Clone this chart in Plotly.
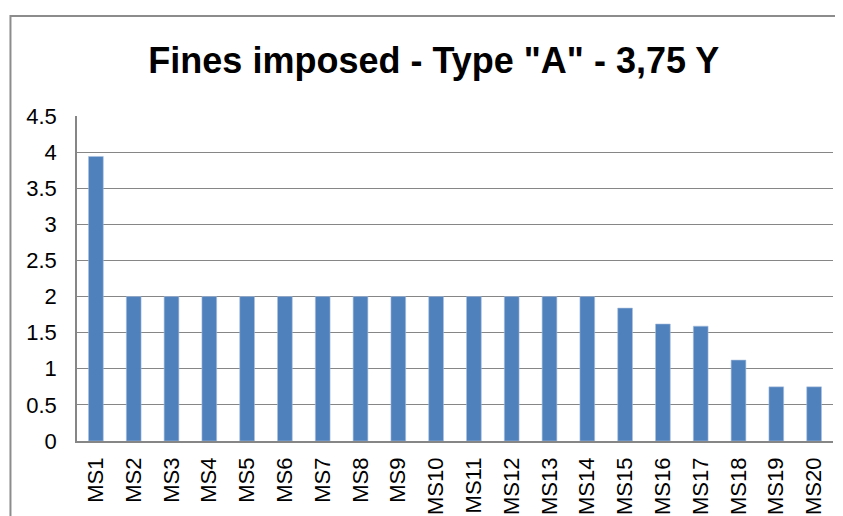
import plotly.graph_objects as go

# Fines per MS
categories = [f"MS{i}" for i in range(1, 21)]
fines = [3.94, 2, 2, 2, 2, 2, 2, 2, 2, 2, 2, 2, 2, 2, 1.84, 1.62, 1.59, 1.12, 0.75, 0.75]
y_ticks = [0, 0.5, 1, 1.5, 2, 2.5, 3, 3.5, 4, 4.5]

BAR_COLOR = "#4F81BD"
GRID_COLOR = "#868686"
TITLE_FONT = "Liberation Sans Narrow, Liberation Sans, Arial, sans-serif"
TICK_FONT = "Liberation Sans, Arial, sans-serif"

fig = go.Figure(go.Bar(
    x=categories,
    y=fines,
    marker=dict(color=BAR_COLOR, line=dict(color="#A9C0DE", width=0.6)),
))

# page body has an 8px margin, so the figure is sized to fit the window
fig.update_layout(
    width=835,
    height=508,
    paper_bgcolor="white",
    plot_bgcolor="white",
    margin=dict(l=69, r=10, t=108, b=75),
    bargap=0.61,
    showlegend=False,
    font=dict(family=TICK_FONT, color="black"),
    title=dict(
        text="<b>Fines imposed - Type \"A\" - 3,75 Y</b>",
        x=0.51, xanchor="center", y=0.896, yanchor="middle",
        font=dict(family=TITLE_FONT, size=36, color="black"),
    ),
    xaxis=dict(
        tickangle=-90,
        tickfont=dict(size=22, family=TICK_FONT),
        showgrid=False,
        showline=True, linecolor=GRID_COLOR, linewidth=1.5,
        ticks="", ticklabelstandoff=6,
        automargin=False,
    ),
    yaxis=dict(
        range=[0, 4.5],
        tickvals=y_ticks,
        ticktext=[f"{v:g}" for v in y_ticks],
        tickfont=dict(size=22, family=TICK_FONT),
        showgrid=True, gridcolor=GRID_COLOR, gridwidth=1.3,
        showline=True, linecolor=GRID_COLOR, linewidth=1.5,
        zeroline=False,
        ticks="", ticklabelstandoff=14,
        automargin=False,
    ),
    shapes=[dict(
        type="rect", xref="paper", yref="paper",
        x0=-0.088, x1=1.2, y0=-0.4, y1=1.3077,
        line=dict(color="#8C8C8C", width=2), layer="below",
    )],
)

fig.write_html("out.html")
